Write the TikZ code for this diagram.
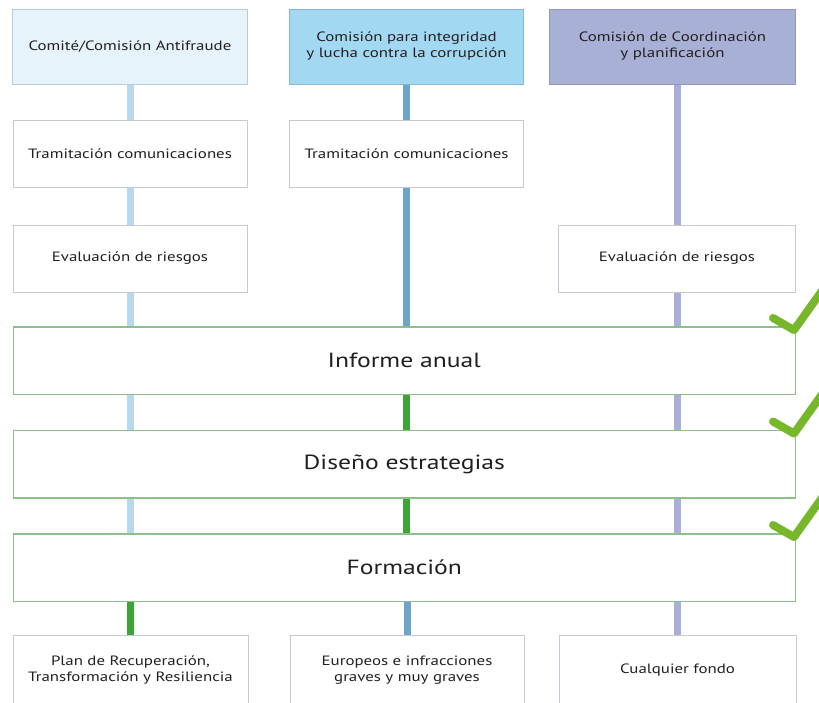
\documentclass[tikz,border=0pt]{standalone}
\usepackage{fontspec}
\setmainfont{PT Sans}[FakeStretch=1.25]
\usetikzlibrary{positioning}

\definecolor{texto}{HTML}{231F20}
\definecolor{cajagris}{HTML}{C5CAD6}
\definecolor{antifraude}{HTML}{E6F3FB}
\definecolor{antifraudeborde}{HTML}{B8CCDC}
\definecolor{integridad}{HTML}{A3D8F2}
\definecolor{integridadborde}{HTML}{86B9D3}
\definecolor{coordinacion}{HTML}{A9B0D6}
\definecolor{coordinacionborde}{HTML}{9097C0}
\definecolor{colA}{HTML}{B5D9EE}
\definecolor{colB}{HTML}{6CA5C9}
\definecolor{colC}{HTML}{A9B0D8}
\definecolor{verde}{HTML}{8DC088}
\definecolor{verdelinea}{HTML}{3DA535}
\definecolor{verdecheck}{HTML}{76B82A}

\tikzset{
    caja/.style={draw=cajagris, line width=1pt, fill=white, rectangle, minimum width=234pt, minimum height=67pt, align=center, inner sep=0pt, text=texto, font=\fontsize{13.5}{16}\selectfont},
    cabecera/.style={caja, minimum height=75pt},
    fondo/.style={caja, minimum height=70pt},
    grande/.style={caja, draw=verde, line width=1.5pt, minimum width=782pt, minimum height=67.5pt, font=\fontsize{20.5}{24}\selectfont},
    col/.style={line width=7pt},
    check/.style={draw=verdecheck, line width=8pt, line cap=round, line join=round}
}

\begin{document}
\begin{tikzpicture}[x=1pt, y=1pt, node distance=34.5pt]
    \useasboundingbox (0,0) rectangle (819,-702);

    % comisiones
    \node(h1)[cabecera, fill=antifraude, draw=antifraudeborde, minimum width=235pt] at (130,-46.5) {Comité/Comisión Antifraude};
    \node(h2)[cabecera, fill=integridad, draw=integridadborde, minimum width=234pt, right=41pt of h1]{Comisión para integridad\\y lucha contra la corrupción};
    \node(h3)[cabecera, fill=coordinacion, draw=coordinacionborde, minimum width=246pt, right=25pt of h2]{Comisión de Coordinación\\y planificación};

    \node(t1)[caja, below=35.5pt of h1]{Tramitación comunicaciones};
    \node(t2)[caja, below=35.5pt of h2]{Tramitación comunicaciones};
    \node(e1)[caja, below=36.5pt of t1]{Evaluación de riesgos};
    \node(e3)[caja, minimum width=237pt, right=310.5pt of e1]{Evaluación de riesgos};

    \node(inf)[grande, below=33.5pt of e1.south west, anchor=north west]{Informe anual};
    \node(dis)[grande, below=of inf]{Diseño estrategias};
    \node(for)[grande, below=of dis]{Formación};

    % fondos (cortados por abajo)
    \node(b1)[fondo, minimum width=235pt, below=32.5pt of for.south west, anchor=north west]{Plan de Recuperación,\\Transformación y Resiliencia};
    \node(b2)[fondo, right=41pt of b1]{Europeos e infracciones\\graves y muy graves};
    \node(b3)[fondo, minimum width=237pt, right=34pt of b2]{Cualquier fondo};

    % columna antifraude
    \draw[col, colA] (h1) -- (t1);
    \draw[col, colA] (t1) -- (e1);
    \draw[col, colA] (e1.south) -- (e1.south |- inf.north);
    \draw[col, colA] (inf.south -| e1) -- (dis.north -| e1);
    \draw[col, colA] (dis.south -| e1) -- (for.north -| e1);
    \draw[col, verdelinea] (for.south -| b1) -- (b1);

    % columna integridad
    \draw[col, colB] (h2) -- (t2);
    \draw[col, colB] (t2.south) -- (t2.south |- inf.north);
    \draw[col, verdelinea] (inf.south -| t2) -- (dis.north -| t2);
    \draw[col, verdelinea] (dis.south -| t2) -- (for.north -| t2);
    \draw[col, colB] (for.south -| b2) -- (b2);

    % columna coordinacion
    \draw[col, colC] (h3.south -| e3) -- (e3);
    \draw[col, colC] (e3.south) -- (e3.south |- inf.north);
    \draw[col, colC] (inf.south -| e3) -- (dis.north -| e3);
    \draw[col, colC] (dis.south -| e3) -- (for.north -| e3);
    \draw[col, colC] (for.south -| b3) -- (b3);

    \foreach \b in {inf,dis,for}
        \draw[check] ([shift={(-23,8)}]\b.north east) -- ++(21,-12) -- ++(30,42);

\end{tikzpicture}
\end{document}
